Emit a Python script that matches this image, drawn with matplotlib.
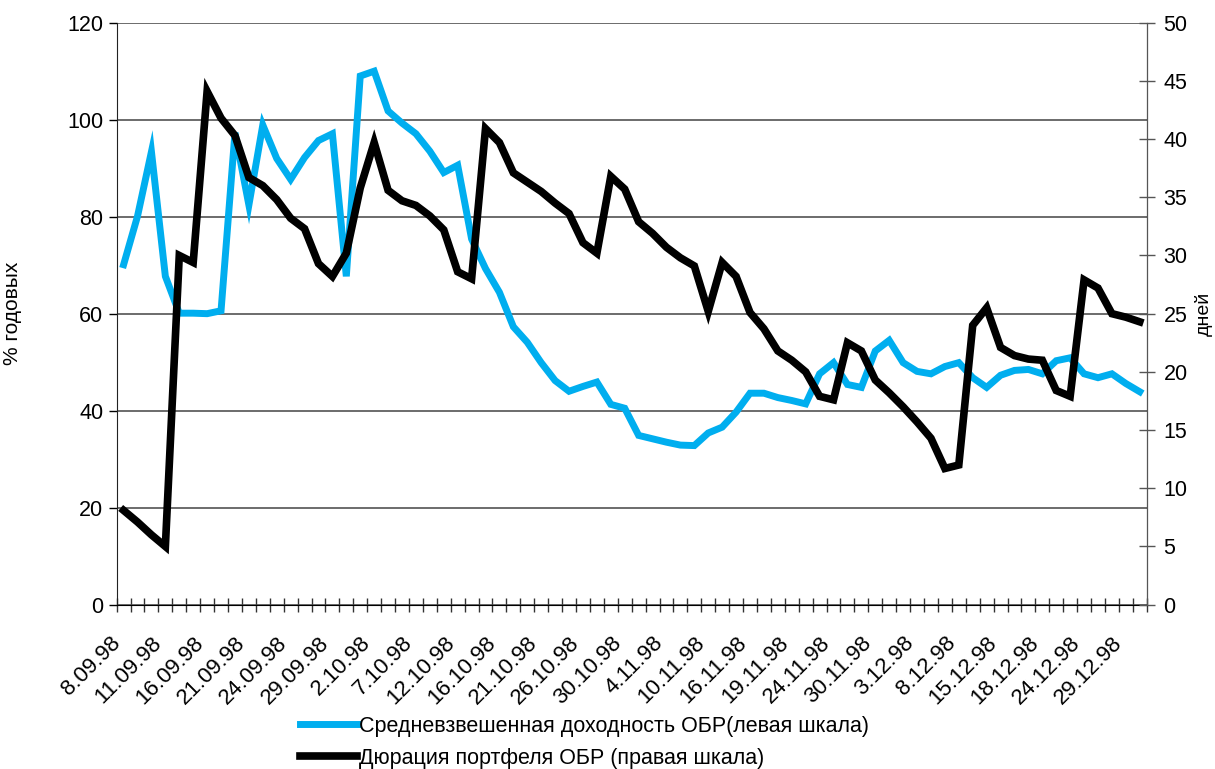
import numpy as np
import matplotlib.pyplot as plt
from matplotlib.transforms import ScaledTranslation

plt.rcParams['font.family'] = ['Liberation Sans', 'DejaVu Sans']

# Средневзвешенная доходность ОБР, % годовых (левая шкала)
yield_obr = [
    70.1, 80.1, 93.4, 67.7, 60.1, 60.1, 60.0, 60.6, 97.3, 82.4,
    98.9, 92.0, 87.7, 92.2, 95.7, 97.1, 67.7, 109.0, 110.0, 101.8,
    99.3, 97.1, 93.5, 89.1, 90.6, 75.4, 69.3, 64.4, 57.3, 54.1,
    49.9, 46.2, 44.0, 45.0, 45.9, 41.3, 40.5, 34.9, 34.2, 33.5,
    32.9, 32.8, 35.4, 36.6, 39.7, 43.6, 43.6, 42.7, 42.1, 41.4,
    47.6, 49.9, 45.4, 44.8, 52.3, 54.5, 49.9, 48.1, 47.6, 49.1,
    49.9, 46.8, 44.8, 47.3, 48.3, 48.5, 47.6, 50.3, 50.9, 47.6,
    46.8, 47.6, 45.6, 43.9
]

# Дюрация портфеля ОБР, дней (правая шкала)
duration_obr = [
    8.1, 7.1, 6.0, 5.0, 30.0, 29.4, 44.1, 41.8, 40.3, 36.7,
    36.0, 34.8, 33.2, 32.3, 29.3, 28.2, 30.2, 35.8, 39.7, 35.6,
    34.7, 34.3, 33.4, 32.2, 28.6, 28.0, 40.9, 39.7, 37.1, 36.3,
    35.5, 34.5, 33.6, 31.1, 30.2, 36.8, 35.7, 32.9, 31.9, 30.7,
    29.8, 29.1, 25.2, 29.4, 28.2, 25.1, 23.7, 21.8, 21.0, 20.0,
    17.9, 17.6, 22.5, 21.8, 19.3, 18.2, 17.0, 15.7, 14.3, 11.7,
    12.0, 24.0, 25.5, 22.1, 21.4, 21.1, 21.0, 18.4, 17.9, 27.9,
    27.2, 25.0, 24.7, 24.3
]

# Подписи оси X (каждая третья дата)
date_labels = [
    '8.09.98', '11.09.98', '16.09.98', '21.09.98', '24.09.98',
    '29.09.98', '2.10.98', '7.10.98', '12.10.98', '16.10.98',
    '21.10.98', '26.10.98', '30.10.98', '4.11.98', '10.11.98',
    '16.11.98', '19.11.98', '24.11.98', '30.11.98', '3.12.98',
    '8.12.98', '15.12.98', '18.12.98', '24.12.98', '29.12.98'
]
label_step = 3

n = len(yield_obr)
x = np.arange(n)

fig = plt.figure(figsize=(12.15, 7.69), dpi=100)
ax = fig.add_axes([0.096, 0.2137, 0.8478, 0.7568])
ax2 = ax.twinx()

# Сетка по левой шкале
ax.set_ylim(0, 120)
ax.set_yticks(np.arange(0, 121, 20))
ax.grid(axis='y', color='#444444', linewidth=1.1)
ax.set_axisbelow(True)

line1, = ax.plot(
    x, yield_obr,
    color='#00AEEF', linewidth=5, solid_joinstyle='miter',
    label='Средневзвешенная доходность ОБР(левая шкала)'
)

line2, = ax2.plot(
    x, duration_obr,
    color='black', linewidth=5.5, solid_joinstyle='miter',
    label='Дюрация портфеля ОБР (правая шкала)'
)

ax2.set_ylim(0, 50)
ax2.set_yticks(np.arange(0, 51, 5))

# Ось X: категории
ax.xaxis.remove_overlapping_locs = False
ax.set_xticks(x[::label_step] - 0.5)
ax.set_xticklabels(date_labels, rotation=45, ha='right',
                   rotation_mode='anchor', fontsize=16)
ax.set_xticks(np.arange(-0.5, n, 1), minor=True)
ax.set_xlim(-0.5, n - 0.5)
ax.tick_params(axis='x', which='major', length=0, pad=20)
ax.tick_params(axis='x', which='minor', direction='inout', length=10,
               width=1, color='#333333')

# подписи дат чуть левее, как в оригинале
shift = ScaledTranslation(-7 / 100, 0, fig.dpi_scale_trans)
for lbl in ax.get_xticklabels():
    lbl.set_transform(lbl.get_transform() + shift)

ax.tick_params(axis='y', direction='out', length=6, labelsize=15.5,
               width=1)
ax2.tick_params(axis='y', direction='inout', length=12, labelsize=15.5,
                width=1, color='#555555', pad=6)

for a in (ax, ax2):
    a.spines['top'].set_visible(False)
ax.spines['left'].set_color('#222222')
ax2.spines['right'].set_color('#555555')
ax2.spines['left'].set_visible(False)
ax2.spines['bottom'].set_visible(False)

ax.set_ylabel('% годовых', fontsize=15)
ax.yaxis.set_label_coords(-0.092, 0.5)
ax2.set_ylabel('дней', fontsize=14)
ax2.yaxis.set_label_coords(1.047, 0.5)

fig.legend(
    handles=[line1, line2],
    loc='upper left',
    bbox_to_anchor=(0.238, 0.083),
    frameon=False,
    fontsize=15.5,
    handlelength=2.65,
    handletextpad=0.1,
    labelspacing=0.5,
    borderpad=0
)

fig.savefig('out.png', dpi=100)
